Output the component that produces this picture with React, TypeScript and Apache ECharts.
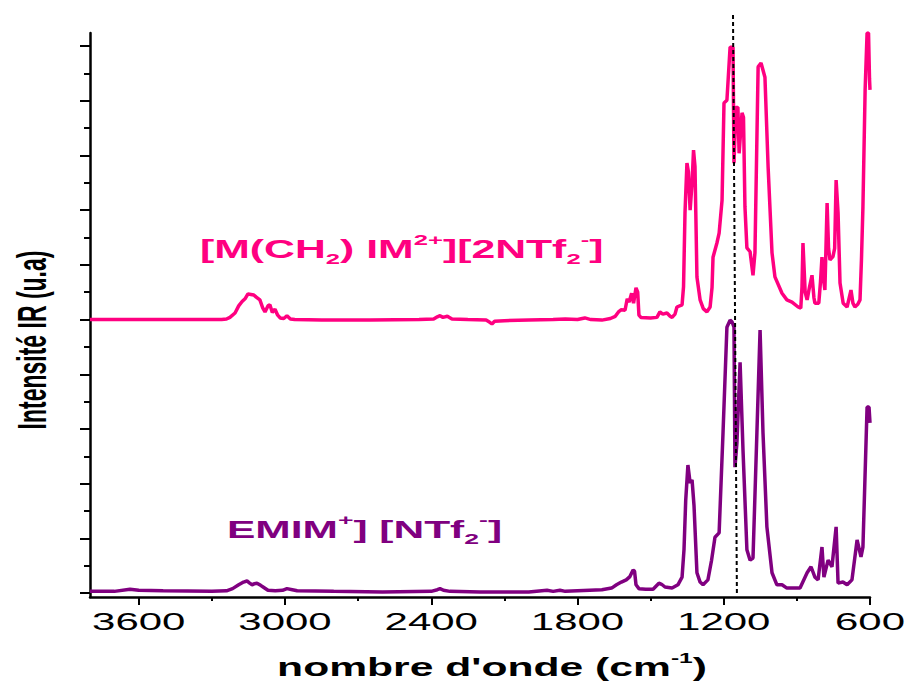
import React, { useEffect, useRef } from "react";
import * as echarts from "echarts";

// ---- axes ----
const X_MIN = 600;
const X_MAX = 3800;
const Y_MIN = -0.073;
const Y_MAX = 10.24;
const xMajorTicks = [600, 1200, 1800, 2400, 3000, 3600];
const xMinorTicks = [900, 1500, 2100, 2700, 3300];
const yMajorTicks = [0, 1, 2, 3, 4, 5, 6, 7, 8, 9, 10];
const yMinorTicks = [0.5, 1.5, 2.5, 3.5, 4.5, 5.5, 6.5, 7.5, 8.5, 9.5];

// ---- texts ----
const xAxisTitle = "nombre d'onde (cm";
const xAxisTitleSup = "-1";
const yAxisTitle = "Intensité IR (u.a)";

// ---- spectra: [wavenumber (cm-1), intensity (u.a)] ----
const pinkSpectrum = [
  [3800, 5.0], [3600, 5.0], [3400, 5.0], [3260, 5.0], [3240, 5.01], [3226, 5.04], [3205, 5.12], [3190, 5.25],
  [3176, 5.33], [3164, 5.38], [3152, 5.47], [3140, 5.46], [3128, 5.45], [3118, 5.41], [3103, 5.36], [3092, 5.22],
  [3082, 5.14], [3070, 5.25], [3062, 5.27], [3052, 5.13], [3041, 5.19], [3030, 5.08], [3020, 5.03], [3005, 5.02],
  [2992, 5.07], [2978, 5.01], [2960, 5.0], [2850, 4.99], [2650, 4.99], [2450, 5.0], [2390, 5.01], [2375, 5.05],
  [2364, 5.07], [2352, 5.04], [2334, 5.06], [2315, 5.01], [2250, 5.0], [2175, 4.99], [2160, 4.95], [2151, 4.92],
  [2140, 4.97], [2100, 4.98], [2000, 4.99], [1900, 5.0], [1850, 5.01], [1800, 5.0], [1770, 5.03], [1745, 5.0],
  [1700, 4.99], [1665, 5.02], [1645, 5.06], [1632, 5.14], [1620, 5.18], [1605, 5.17], [1596, 5.38], [1588, 5.32],
  [1578, 5.48], [1570, 5.3], [1560, 5.58], [1553, 5.5], [1548, 5.08], [1540, 5.04], [1500, 5.03], [1474, 5.04],
  [1462, 5.14], [1450, 5.1], [1433, 5.12], [1420, 5.06], [1412, 5.04], [1400, 5.1], [1392, 5.23], [1371, 5.27],
  [1365, 5.6], [1359, 6.95], [1351, 7.86], [1345, 7.7], [1338, 7.0], [1330, 7.5], [1324, 8.1], [1318, 7.8],
  [1310, 5.78], [1297, 5.36], [1284, 5.2], [1269, 5.14], [1256, 5.23], [1248, 5.59], [1244, 6.14], [1228, 6.4],
  [1219, 6.58], [1207, 7.18], [1199, 8.96], [1187, 9.01], [1174, 9.98], [1162, 9.98], [1158, 7.86], [1150, 8.88],
  [1142, 8.88], [1137, 8.04], [1125, 8.78], [1119, 8.7], [1113, 7.06], [1105, 6.31], [1092, 6.24], [1080, 5.81],
  [1072, 6.22], [1059, 9.62], [1047, 9.69], [1031, 9.43], [1018, 7.79], [1002, 6.22], [990, 5.78], [961, 5.48],
  [941, 5.36], [920, 5.32], [895, 5.23], [884, 5.21], [879, 5.6], [875, 6.4], [866, 5.5], [858, 5.36],
  [848, 5.6], [838, 5.81], [830, 5.4], [826, 5.3], [810, 5.3], [803, 5.7], [797, 6.14], [791, 5.75],
  [785, 5.54], [776, 7.13], [770, 6.3], [764, 6.09], [752, 6.15], [745, 6.3], [739, 7.55], [731, 6.95],
  [723, 5.67], [710, 5.3], [694, 5.23], [678, 5.54], [670, 5.3], [662, 5.23], [650, 5.28], [641, 5.36],
  [635, 6.1], [629, 7.06], [620, 9.2], [612, 10.24], [606, 10.24], [602, 9.4], [600, 9.2],
];

const purpleSpectrum = [
  [3800, 0.03], [3700, 0.03], [3636, 0.07], [3600, 0.05], [3500, 0.04], [3300, 0.03], [3240, 0.04], [3215, 0.08],
  [3190, 0.15], [3170, 0.2], [3156, 0.22], [3145, 0.18], [3135, 0.15], [3125, 0.17], [3115, 0.18], [3100, 0.14],
  [3090, 0.11], [3070, 0.05], [3040, 0.04], [3010, 0.05], [2992, 0.08], [2970, 0.06], [2950, 0.04], [2800, 0.03],
  [2600, 0.02], [2400, 0.03], [2375, 0.06], [2364, 0.08], [2350, 0.05], [2323, 0.03], [2200, 0.02], [2000, 0.02],
  [1925, 0.05], [1900, 0.03], [1872, 0.05], [1850, 0.03], [1800, 0.04], [1750, 0.05], [1700, 0.06], [1660, 0.09],
  [1640, 0.15], [1620, 0.2], [1600, 0.24], [1585, 0.3], [1572, 0.42], [1566, 0.4], [1560, 0.15], [1548, 0.08],
  [1520, 0.07], [1490, 0.07], [1466, 0.18], [1455, 0.16], [1441, 0.11], [1412, 0.09], [1388, 0.15], [1371, 0.29],
  [1363, 0.8], [1356, 1.7], [1347, 2.34], [1338, 2.01], [1330, 2.07], [1322, 1.6], [1310, 0.37], [1297, 0.2],
  [1285, 0.15], [1265, 0.24], [1250, 0.6], [1236, 1.02], [1219, 1.1], [1203, 2.93], [1187, 4.86], [1174, 4.99],
  [1166, 4.96], [1158, 4.86], [1154, 2.3], [1146, 2.74], [1133, 4.22], [1121, 2.61], [1105, 0.79], [1092, 0.6],
  [1080, 0.64], [1064, 2.93], [1051, 4.81], [1039, 2.93], [1023, 1.21], [1002, 0.37], [982, 0.15], [961, 0.15],
  [941, 0.09], [887, 0.09], [858, 0.37], [842, 0.48], [826, 0.29], [813, 0.24], [797, 0.84], [789, 0.29],
  [772, 0.6], [756, 0.48], [739, 1.21], [731, 0.18], [711, 0.2], [694, 0.15], [674, 0.24], [653, 0.97],
  [637, 0.66], [629, 0.84], [612, 3.4], [604, 3.4], [600, 3.11],
];

// dashed reference line (wavenumber, intensity) end points
const refLine = [[1162, 10.57], [1146, -0.04]];

const pinkLabel = "{m|[M(CH}{sub|2}{m|) IM}{sup|2+}{m|][2NTf}{sub|2}{sup|-}{m|]}";
const purpleLabel = "{m|EMIM}{sup|+}{m|] [NTf}{sub|2}{sup|-}{m|]}";

const PINK = "#FF0080";
const PURPLE = "#800080";
const FONT = '"Liberation Sans", Arial, Helvetica, sans-serif';

function richStyles(color: string, size: number, lh: number, supLh: number, subLh: number) {
  return {
    m: { fontFamily: FONT, fontWeight: "bold", fontSize: size, lineHeight: lh, fill: color, color },
    sub: { fontFamily: FONT, fontWeight: "bold", fontSize: 15, lineHeight: subLh, verticalAlign: "bottom", fill: color, color },
    sup: { fontFamily: FONT, fontWeight: "bold", fontSize: 15, lineHeight: supLh, verticalAlign: "top", fill: color, color },
  };
}

export default function App() {
  const ref = useRef<HTMLDivElement>(null);
  useEffect(() => {
    if (!ref.current) return;
    const chart = echarts.init(ref.current, null, { renderer: "svg" });
    const gridLeft = 90, gridRight = 37, gridTop = 33, gridBottom = 87;
    const gridW = 907 - gridLeft - gridRight;
    const gridH = 684 - gridTop - gridBottom;
    const tickStyle = { color: "#000", width: 2 };
    const xBase = {
      type: "value", min: X_MIN, max: X_MAX, inverse: true,
      splitLine: { show: false }, axisLabel: { show: false }, minorTick: { show: false },
    };
    const yBase = {
      type: "value", min: Y_MIN, max: Y_MAX,
      splitLine: { show: false }, axisLabel: { show: false }, minorTick: { show: false },
    };
    chart.setOption({
      animation: false,
      grid: { left: gridLeft, right: gridRight, top: gridTop, bottom: gridBottom, containLabel: false, outerBoundsMode: "none" },
      xAxis: [
        {
          ...xBase, position: "bottom",
          axisLine: { show: true, onZero: false, lineStyle: { color: "#000", width: 2.5 } },
          axisTick: { show: true, customValues: xMajorTicks, length: 8, lineStyle: tickStyle },
        },
        {
          ...xBase, position: "top", offset: -gridH,
          axisLine: { show: false, onZero: false },
          axisTick: { show: true, inside: true, customValues: xMinorTicks, length: 4, lineStyle: tickStyle },
        },
      ],
      yAxis: [
        {
          ...yBase, position: "left",
          axisLine: { show: true, onZero: false, lineStyle: { color: "#000", width: 2.5 } },
          axisTick: { show: true, customValues: yMajorTicks, length: 10, lineStyle: tickStyle },
        },
        {
          ...yBase, position: "right", offset: -gridW,
          axisLine: { show: false, onZero: false },
          axisTick: { show: true, inside: true, customValues: yMinorTicks, length: 6, lineStyle: tickStyle },
        },
      ],
      series: [
        {
          type: "line", name: "pink", data: pinkSpectrum, xAxisIndex: 0, yAxisIndex: 0,
          symbol: "none", lineStyle: { color: PINK, width: 3.5 }, itemStyle: { color: PINK }, z: 3,
        },
        {
          type: "line", name: "purple", data: purpleSpectrum, xAxisIndex: 0, yAxisIndex: 0,
          symbol: "none", lineStyle: { color: PURPLE, width: 3.5 }, itemStyle: { color: PURPLE }, z: 3,
        },
        {
          type: "line", name: "ref", data: refLine, xAxisIndex: 0, yAxisIndex: 0, clip: false,
          symbol: "none", lineStyle: { color: "#000", width: 2, type: [4, 3] }, z: 5, silent: true,
        },
      ],
    });

    const axisY = chart.convertToPixel({ yAxisIndex: 0 }, Y_MIN) as number;
    const graphics: any[] = xMajorTicks.map((v) => ({
      type: "text",
      x: chart.convertToPixel({ xAxisIndex: 0 }, v) as number,
      y: axisY + 24.5,
      scaleX: 1.75,
      style: {
        text: String(v), fill: "#000", fontFamily: FONT, fontSize: 24,
        align: "center", verticalAlign: "middle", textAlign: "center", textVerticalAlign: "middle",
      },
    }));
    graphics.push({
      type: "text", x: 492, y: 667, scaleX: 1.64,
      style: {
        text: `{m|${xAxisTitle}}{sup|${xAxisTitleSup}}{m|)}`,
        rich: richStyles("#000", 26, 34, 6, 12),
        align: "center", verticalAlign: "middle", textAlign: "center", textVerticalAlign: "middle",
      },
    });
    graphics.push({
      type: "text", x: 32, y: 340, rotation: Math.PI / 2, scaleX: 1, scaleY: 1.75,
      style: {
        text: yAxisTitle, fill: "#000", fontFamily: FONT, fontWeight: "bold", fontSize: 23,
        align: "center", verticalAlign: "middle", textAlign: "center", textVerticalAlign: "middle",
      },
    });
    graphics.push({
      type: "text", x: 200, y: 249, scaleX: 1.71,
      style: {
        text: pinkLabel, rich: richStyles(PINK, 25, 34, 20, 15),
        align: "left", verticalAlign: "middle", textAlign: "left", textVerticalAlign: "middle",
      },
    });
    graphics.push({
      type: "text", x: 227, y: 529.5, scaleX: 1.77,
      style: {
        text: purpleLabel, rich: richStyles(PURPLE, 24, 34, 20, 15),
        align: "left", verticalAlign: "middle", textAlign: "left", textVerticalAlign: "middle",
      },
    });
    chart.setOption({ graphic: graphics });

    return () => chart.dispose();
  }, []);
  return (
    <div
      ref={ref}
      style={{ position: "fixed", left: 0, top: 0, width: 907, height: 684, background: "#fff" }}
    />
  );
}
